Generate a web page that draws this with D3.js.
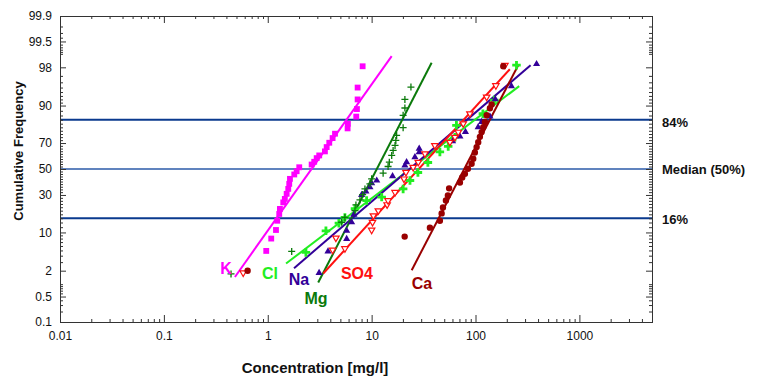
<!DOCTYPE html>
<html>
<head>
<meta charset="utf-8">
<script src="https://cdn.jsdelivr.net/npm/d3@7"></script>
<style>
  html, body { margin: 0; padding: 0; background: #fff; }
  svg { display: block; font-family: "Liberation Sans", Arial, sans-serif; }
</style>
</head>
<body>
<script>
// concentration [mg/l], cumulative frequency [%]
const kConc   = [0.967, 1.08, 1.2, 1.234, 1.29, 1.31, 1.41, 1.46, 1.52, 1.575, 1.61, 1.636, 1.8, 1.897, 2.01, 2.645, 2.8, 2.957, 3.13, 3.55, 3.69, 3.91, 4.21, 4.44, 5.87, 5.91, 7.11, 7.22, 7.33, 7.33, 8.19];
const kPct    = [4.9, 8.0, 10.9, 14.8, 18.2, 21.0, 25.0, 27.3, 30.8, 34.4, 38.2, 42.1, 45.6, 48.2, 51.4, 53.6, 55.8, 58.7, 60.8, 63.9, 67.1, 70.2, 73.4, 76.2, 79.4, 82.0, 85.5, 88.7, 92.0, 95.0, 98.1];

const clConc  = [2.33, 3.63, 4.84, 5.53, 6.91, 8.95, 12.5, 20.1, 23.4, 27.9, 34.8, 45.4, 54.6, 63.4, 65.5, 117.8, 152, 248];
const clPct   = [4.6, 10.6, 13.7, 16.4, 21.2, 26.2, 28.5, 34.4, 40.8, 47.2, 55.2, 63.5, 67.6, 74.0, 81.1, 86.8, 91.8, 98.2];

const naConc  = [3.12, 3.80, 5.75, 5.75, 6.42, 6.75, 8.01, 8.81, 9.63, 10.0, 11.2, 15.9, 20.9, 21.7, 26.1, 28.7, 28.7, 60.2, 70.8, 80, 106, 114.5, 137.6, 154.8, 221.6, 387];
const naPct   = [1.8, 4.8, 7.9, 10.6, 14.1, 17.8, 30.1, 32.6, 35.6, 38.7, 40.8, 44.2, 52.8, 55.5, 59.4, 63.3, 65.9, 71.3, 74.5, 77.3, 80.1, 82.9, 85.6, 92.1, 95.3, 98.3];

const mgConc  = [0.443, 1.70, 5.14, 5.53, 6.91, 7.06, 7.72, 8.19, 8.62, 9.63, 10.0, 12.9, 14.4, 14.8, 15.6, 16.1, 16.8, 17.1, 17.4, 20.1, 20.1, 20.9, 20.9, 23.9];
const mgPct   = [1.7, 4.8, 14.1, 16.4, 20.0, 23.4, 26.6, 30.3, 34.4, 38.2, 42.1, 46.6, 52.0, 55.5, 60.8, 64.6, 68.3, 71.8, 75.1, 79.8, 86.1, 89.1, 92.0, 95.1];

const so4Conc = [0.58, 4.21, 4.53, 5.53, 10.0, 10.2, 10.4, 11.6, 14.1, 14.4, 16.8, 20.5, 21.4, 25.1, 28.1, 32.6, 40.6, 56.7, 63.4, 68.2, 76.2, 88.3, 128, 157, 192];
const so4Pct  = [1.8, 5.1, 8.2, 5.4, 10.9, 14.1, 17.3, 20.0, 23.6, 26.2, 31.9, 42.1, 47.4, 51.4, 55.5, 62.1, 68.3, 70.6, 74.0, 77.2, 82.0, 86.8, 92.7, 95.4, 98.2];

const caConc  = [0.64, 20.8, 36.4, 45.4, 47.2, 48.6, 51.9, 54.2, 55.7, 70.8, 74.5, 79.1, 84.5, 91.7, 95.1, 98.6, 102.5, 106.2, 110.2, 114.5, 118.7, 123.2, 128, 137.6, 143, 185];
const caPct   = [2.0, 8.6, 11.8, 14.8, 18.5, 21.8, 26.2, 29.6, 34.8, 39.2, 43.2, 46.1, 50.2, 54.2, 58.2, 63.1, 67.1, 70.6, 74.2, 77.2, 80.1, 82.9, 86.1, 89.0, 90.4, 98.1];

// fitted lines: [conc, pct] at both ends
const kFit   = [[0.483, 1.46], [15.6, 98.87]];
const clFit  = [[1.50, 2.81], [263.5, 95.3]];
const naFit  = [[1.79, 2.26], [339, 98.2]];
const mgFit  = [[3.06, 1.09], [37.8, 98.4]];
const so4Fit = [[3.42, 1.74], [214, 97.8]];
const caFit  = [[24.3, 2.05], [257.6, 98.2]];

// label anchor [conc, pct]
const seriesNames = ['K', 'Cl', 'Na', 'Mg', 'SO4', 'Ca'];
const labelAt = [[0.396, 2.19], [1.05, 1.71], [2.0, 1.26], [2.91, 0.46], [7.22, 1.71], [30.5, 1.07]];

const xTicks = [0.01, 0.1, 1, 10, 100, 1000];
const yTicks = [0.1, 0.5, 2, 10, 30, 50, 70, 90, 98, 99.5, 99.9];
const refLines = [84, 50, 16];
const refLabels = ['84%', 'Median (50%)', '16%'];

const width = 762;
const height = 379;
const margin = { top: 16, right: 110, bottom: 57, left: 60 };

// inverse normal CDF (Acklam)
function probit(p) {
    const a = [-3.969683028665376e+01, 2.209460984245205e+02, -2.759285104469687e+02, 1.383577518672690e+02, -3.066479806614716e+01, 2.506628277459239e+00];
    const b = [-5.447609879822406e+01, 1.615858368580409e+02, -1.556989798598866e+02, 6.680131188771972e+01, -1.328068155288572e+01];
    const c = [-7.784894002430293e-03, -3.223964580411365e-01, -2.400758277161838e+00, -2.549732539343734e+00, 4.374664141464968e+00, 2.938163982698783e+00];
    const d = [7.784695709041462e-03, 3.224671290700398e-01, 2.445134137142996e+00, 3.754408661907416e+00];
    const plow = 0.02425;
    let q, r;
    if (p < plow) {
        q = Math.sqrt(-2 * Math.log(p));
        return (((((c[0] * q + c[1]) * q + c[2]) * q + c[3]) * q + c[4]) * q + c[5]) /
            ((((d[0] * q + d[1]) * q + d[2]) * q + d[3]) * q + 1);
    }
    if (p > 1 - plow) {
        q = Math.sqrt(-2 * Math.log(1 - p));
        return -(((((c[0] * q + c[1]) * q + c[2]) * q + c[3]) * q + c[4]) * q + c[5]) /
            ((((d[0] * q + d[1]) * q + d[2]) * q + d[3]) * q + 1);
    }
    q = p - 0.5;
    r = q * q;
    return (((((a[0] * r + a[1]) * r + a[2]) * r + a[3]) * r + a[4]) * r + a[5]) * q /
        (((((b[0] * r + b[1]) * r + b[2]) * r + b[3]) * r + b[4]) * r + 1);
}

const chartWidth = width - margin.left - margin.right;
const chartHeight = height - margin.top - margin.bottom;

const xScale = d3.scaleLog().domain([0.01, 5000]).range([0, chartWidth]);
const zScale = d3.scaleLinear().domain([probit(0.001), probit(0.999)]).range([chartHeight, 0]);
const yScale = (pct) => zScale(probit(pct / 100));

const svg = d3.select('body')
    .append('svg')
    .attr('width', width)
    .attr('height', height);

const g = svg.append('g')
    .attr('transform', `translate(${margin.left}, ${margin.top})`);

// reference lines
g.selectAll('.ref')
    .data(refLines)
    .enter()
    .append('line')
    .attr('x1', 0)
    .attr('x2', chartWidth)
    .attr('y1', d => yScale(d))
    .attr('y2', d => yScale(d))
    .attr('stroke', d => d === 50 ? '#2b5aa8' : '#0a3a8e')
    .attr('stroke-width', d => d === 50 ? 1.6 : 2.2);

g.selectAll('.refLabel')
    .data(refLines)
    .enter()
    .append('text')
    .attr('x', chartWidth + 10)
    .attr('y', d => yScale(d) + (d === 84 ? 3 : d === 16 ? 1 : 0))
    .attr('dy', '0.35em')
    .attr('font-size', 13)
    .attr('font-weight', 'bold')
    .attr('fill', '#111')
    .text((d, i) => refLabels[i]);

// axes
const xMinor = [];
for (let e = -2; e <= 3; e++) {
    for (let m = 2; m <= 9; m++) {
        const v = m * Math.pow(10, e);
        if (v <= 5000) xMinor.push(v);
    }
}
const yMinor = [0.2, 0.3, 0.4, 0.6, 0.7, 0.8, 0.9, 1, 3, 4, 5, 6, 7, 8, 9]
    .concat(d3.range(12, 90, 2).filter(v => yTicks.indexOf(v) < 0))
    .concat([91, 92, 93, 94, 95, 96, 97, 99, 99.1, 99.2, 99.3, 99.4, 99.6, 99.7, 99.8]);

const axisColor = '#333';
function styleAxis(sel) {
    sel.select('.domain').attr('stroke', axisColor);
    sel.selectAll('.tick line').attr('stroke', axisColor);
    sel.selectAll('.tick text').attr('fill', '#111').attr('font-size', 12);
}

const yAxisScale = d3.scaleLinear().domain(zScale.domain()).range(zScale.range());
const yMajorZ = yTicks.map(v => probit(v / 100));
const yMinorZ = yMinor.map(v => probit(v / 100));

g.append('g')
    .attr('transform', `translate(0, ${chartHeight})`)
    .call(d3.axisBottom(xScale).tickValues(xMinor).tickSize(-3).tickFormat(''))
    .call(styleAxis);
g.append('g')
    .attr('transform', `translate(0, ${chartHeight})`)
    .call(d3.axisBottom(xScale).tickValues(xTicks).tickSize(-7).tickPadding(9).tickFormat(d3.format('~g')))
    .call(styleAxis);
g.append('g')
    .call(d3.axisTop(xScale).tickValues(xMinor).tickSize(-3).tickFormat(''))
    .call(styleAxis);
g.append('g')
    .call(d3.axisTop(xScale).tickValues(xTicks).tickSize(-7).tickFormat(''))
    .call(styleAxis);

g.append('g')
    .call(d3.axisLeft(yAxisScale).tickValues(yMinorZ).tickSize(-3).tickFormat(''))
    .call(styleAxis);
g.append('g')
    .call(d3.axisLeft(yAxisScale).tickValues(yMajorZ).tickSize(-6).tickPadding(8)
        .tickFormat((d, i) => yTicks[i]))
    .call(styleAxis);
g.append('g')
    .attr('transform', `translate(${chartWidth}, 0)`)
    .call(d3.axisRight(yAxisScale).tickValues(yMinorZ).tickSize(-3).tickFormat(''))
    .call(styleAxis);
g.append('g')
    .attr('transform', `translate(${chartWidth}, 0)`)
    .call(d3.axisRight(yAxisScale).tickValues(yMajorZ).tickSize(-6).tickFormat(''))
    .call(styleAxis);

// axis titles
svg.append('text')
    .attr('x', 315)
    .attr('y', 373)
    .attr('text-anchor', 'middle')
    .attr('font-size', 15)
    .attr('font-weight', 'bold')
    .attr('fill', '#111')
    .text('Concentration [mg/l]');
svg.append('text')
    .attr('transform', 'translate(23, 151) rotate(-90)')
    .attr('text-anchor', 'middle')
    .attr('font-size', 13)
    .attr('font-weight', 'bold')
    .attr('fill', '#111')
    .text('Cumulative Frequency');

// series
const series = [
    { conc: kConc, pct: kPct, fit: kFit, color: '#ff00ff', symbol: d3.symbolSquare, size: 34, mode: 'fill' },
    { conc: clConc, pct: clPct, fit: clFit, color: '#22ee22', symbol: d3.symbolCross, size: 40, mode: 'fill' },
    { conc: naConc, pct: naPct, fit: naFit, color: '#330099', symbol: d3.symbolTriangle, size: 22, mode: 'fill' },
    { conc: mgConc, pct: mgPct, fit: mgFit, color: '#0b7a0b', symbol: d3.symbolPlus, size: 0, mode: 'plus' },
    { conc: so4Conc, pct: so4Pct, fit: so4Fit, color: '#ff1010', symbol: d3.symbolTriangle, size: 18, mode: 'open' },
    { conc: caConc, pct: caPct, fit: caFit, color: '#990000', symbol: d3.symbolCircle, size: 32, mode: 'fill' }
];

const line = d3.line()
    .x(d => xScale(d[0]))
    .y(d => yScale(d[1]));

series.forEach(s => {
    g.append('path')
        .datum(s.fit)
        .attr('fill', 'none')
        .attr('stroke', s.color)
        .attr('stroke-width', 2)
        .attr('d', line);
});

series.forEach(s => {
    const pts = s.conc.map((c, i) => [c, s.pct[i]]);
    const sel = g.append('g').selectAll('path')
        .data(pts)
        .enter()
        .append('path')
        .attr('transform', d => `translate(${xScale(d[0])}, ${yScale(d[1])})` + (s.mode === 'open' ? ' rotate(180)' : ''));
    if (s.mode === 'plus') {
        sel.attr('d', 'M-3.5,0H3.5M0,-3.5V3.5')
            .attr('fill', 'none')
            .attr('stroke', s.color)
            .attr('stroke-width', 1.3);
    } else if (s.mode === 'open') {
        sel.attr('d', d3.symbol().type(s.symbol).size(s.size))
            .attr('fill', '#fff')
            .attr('stroke', s.color)
            .attr('stroke-width', 1.2);
    } else {
        sel.attr('d', d3.symbol().type(s.symbol).size(s.size))
            .attr('fill', s.color);
    }
});

// series labels
g.selectAll('.seriesLabel')
    .data(seriesNames)
    .enter()
    .append('text')
    .attr('x', (d, i) => xScale(labelAt[i][0]))
    .attr('y', (d, i) => yScale(labelAt[i][1]))
    .attr('dy', '0.35em')
    .attr('text-anchor', 'middle')
    .attr('font-size', 16)
    .attr('font-weight', 'bold')
    .attr('fill', (d, i) => series[i].color)
    .text(d => d);
</script>
</body>
</html>
